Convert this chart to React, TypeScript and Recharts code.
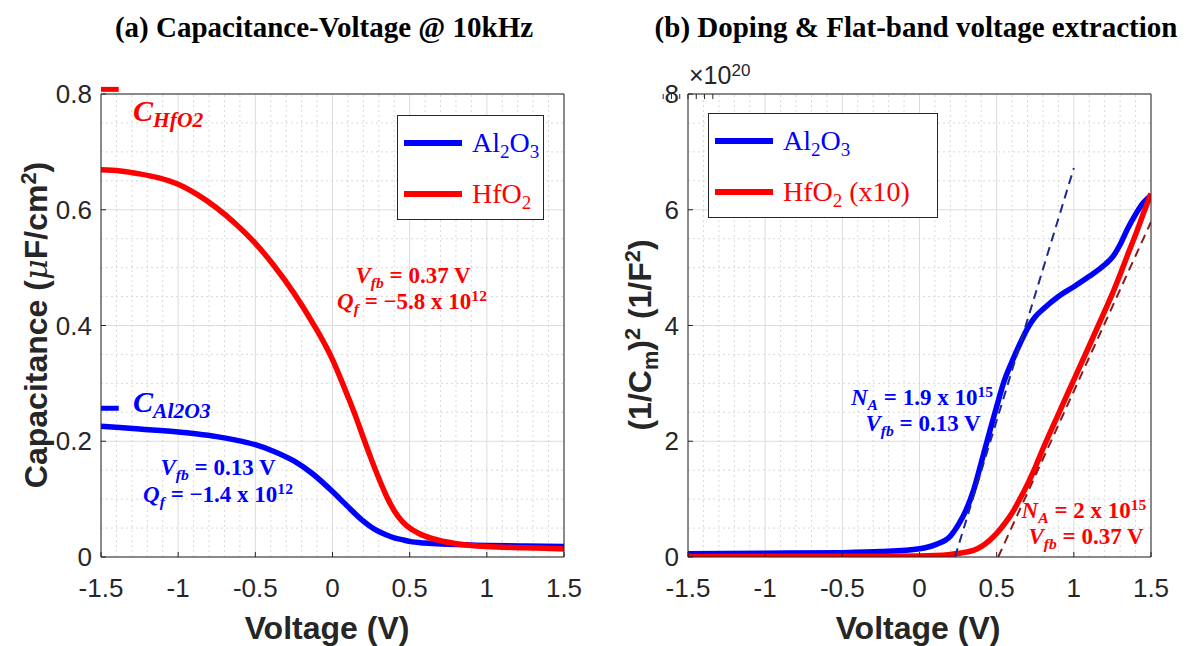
import React from "react";
import {
  LineChart,
  Line,
  CartesianGrid,
  XAxis,
  YAxis,
  ReferenceLine,
} from "recharts";

// (a) C-V @ 10kHz
const cvVoltsAl = [-1.5, -1.25, -1, -0.875, -0.75, -0.625, -0.5, -0.375, -0.25, -0.125, 0, 0.05, 0.1, 0.15, 0.2, 0.25, 0.3, 0.35, 0.4, 0.45, 0.5, 0.6, 0.75, 1, 1.25, 1.5];
const cvAl2O3 = [0.226, 0.221, 0.216, 0.2125, 0.208, 0.202, 0.194, 0.182, 0.166, 0.143, 0.113, 0.1, 0.087, 0.074, 0.062, 0.052, 0.044, 0.038, 0.033, 0.03, 0.027, 0.024, 0.022, 0.02, 0.019, 0.018];
const cvVoltsHf = [-1.5, -1.375, -1.25, -1.125, -1, -0.875, -0.75, -0.625, -0.5, -0.375, -0.25, -0.125, 0, 0.05, 0.1, 0.15, 0.2, 0.25, 0.3, 0.35, 0.4, 0.45, 0.5, 0.55, 0.6, 0.7, 0.8, 1, 1.25, 1.5];
const cvHfO2 = [0.669, 0.667, 0.662, 0.655, 0.644, 0.626, 0.603, 0.575, 0.542, 0.502, 0.456, 0.403, 0.341, 0.31, 0.277, 0.243, 0.206, 0.17, 0.136, 0.105, 0.08, 0.062, 0.05, 0.042, 0.036, 0.028, 0.023, 0.018, 0.016, 0.014];
const cOxHfO2 = 0.808;
const cOxAl2O3 = 0.257;
const cOxSpan = [-1.5, -1.385];

// (b) 1/C^2 vs V (x1e20)
const mVolts = [-1.5, -1, -0.5, -0.25, 0, 0.1, 0.2, 0.25, 0.3, 0.35, 0.4, 0.45, 0.5, 0.55, 0.6, 0.65, 0.7, 0.75, 0.8, 0.9, 1, 1.1, 1.2, 1.25, 1.3, 1.35, 1.4, 1.45, 1.5];
const mAl2O3 = [0.058, 0.065, 0.075, 0.093, 0.144, 0.21, 0.36, 0.55, 0.8, 1.15, 1.63, 2.12, 2.6, 3.05, 3.38, 3.68, 3.95, 4.15, 4.28, 4.5, 4.67, 4.85, 5.05, 5.18, 5.4, 5.68, 5.92, 6.12, 6.25];
const mHfO2 = [0.01, 0.011, 0.012, 0.014, 0.017, 0.025, 0.045, 0.06, 0.085, 0.115, 0.18, 0.28, 0.41, 0.57, 0.76, 1.0, 1.26, 1.55, 1.87, 2.47, 3.06, 3.65, 4.25, 4.55, 4.88, 5.23, 5.57, 5.93, 6.28];
const fitAlV = [0.23, 1.0];
const fitAlY = [0, 6.72];
const fitHfV = [0.51, 1.5];
const fitHfY = [0, 5.79];

const xTicks = [-1.5, -1, -0.5, 0, 0.5, 1, 1.5];
const xMinor = [-1.4, -1.3, -1.2, -1.1, -0.9, -0.8, -0.7, -0.6, -0.4, -0.3, -0.2, -0.1, 0.1, 0.2, 0.3, 0.4, 0.6, 0.7, 0.8, 0.9, 1.1, 1.2, 1.3, 1.4];
const cTicks = [0, 0.2, 0.4, 0.6, 0.8];
const cMinor = [0.05, 0.1, 0.15, 0.25, 0.3, 0.35, 0.45, 0.5, 0.55, 0.65, 0.7, 0.75];
const mTicks = [0, 2, 4, 6, 8];
const mMinor = [0.5, 1, 1.5, 2.5, 3, 3.5, 4.5, 5, 5.5, 6.5, 7, 7.5];

const BLUE = "#0000ff";
const RED = "#ff0000";
const AX = "#262626";

const cvAl = cvVoltsAl.map((v, i) => ({ v, y: cvAl2O3[i] }));
const cvHf = cvVoltsHf.map((v, i) => ({ v, y: cvHfO2[i] }));
const mData = mVolts.map((v, i) => ({ v, al: mAl2O3[i], hf: mHfO2[i] }));
const fitAl = fitAlV.map((v, i) => ({ v, y: fitAlY[i] }));
const fitHf = fitHfV.map((v, i) => ({ v, y: fitHfY[i] }));

const tickStyle = { fontFamily: "Liberation Sans, Arial, sans-serif", fontSize: 26, fill: AX };
const blank = () => "";

const Txt = ({ x, y, rot, style, children }: any) => (
  <div
    style={{
      position: "absolute",
      left: x,
      top: y,
      transform: `translate(-50%, -50%)${rot ? ` rotate(${rot}deg)` : ""}`,
      whiteSpace: "nowrap",
      lineHeight: 1,
      ...style,
    }}
  >
    {children}
  </div>
);

const Sub = ({ children, s = 0.68 }: any) => (
  <span style={{ fontSize: `${s}em`, position: "relative", top: "0.3em" }}>{children}</span>
);
const Sup = ({ children }: any) => (
  <span style={{ fontSize: "0.68em", position: "relative", top: "-0.5em" }}>{children}</span>
);
const I = ({ children }: any) => <span style={{ fontStyle: "italic" }}>{children}</span>;

const noteStyle = (color: string) => ({
  fontFamily: "Liberation Serif, serif",
  fontWeight: 700,
  fontSize: 23,
  color,
});
const labelStyle = { fontFamily: "Liberation Sans, Arial, sans-serif", fontWeight: 700, fontSize: 32, color: AX };
const titleStyle = { fontFamily: "Liberation Serif, serif", fontWeight: 700, fontSize: 29 };

const Grid = ({ yMinor }: { yMinor: number[] }) => (
  <>
    {xMinor.map((x) => (
      <ReferenceLine key={"x" + x} x={x} stroke="#d9d9d9" strokeDasharray="2 3" />
    ))}
    {yMinor.map((y) => (
      <ReferenceLine key={"y" + y} y={y} stroke="#d9d9d9" strokeDasharray="2 3" />
    ))}
  </>
);

const Frame = ({ domain, ticks }: { domain: number[]; ticks: number[] }) => (
  <>
    <XAxis xAxisId="top" orientation="top" type="number" domain={[-1.5, 1.5]} ticks={xTicks}
      tickFormatter={blank} tickSize={-5} tickLine={{ stroke: AX }} axisLine={{ stroke: AX }} height={1} />
    <YAxis yAxisId="right" orientation="right" type="number" domain={domain} ticks={ticks}
      tickFormatter={blank} tickSize={-5} tickLine={{ stroke: AX }} axisLine={{ stroke: AX }} width={1} />
  </>
);

const LegendBox = ({ left, top, width, items }: any) => (
  <div
    style={{
      position: "absolute",
      left,
      top,
      width,
      height: 105,
      border: "1.5px solid #262626",
      background: "#fff",
      boxSizing: "border-box",
      fontFamily: "Liberation Serif, serif",
      fontSize: 28,
    }}
  >
    {items.map((it: any, i: number) => (
      <div key={i} style={{ position: "absolute", left: 6, top: 13 + i * 51, display: "flex", alignItems: "center" }}>
        <div style={{ width: 58, height: 6, background: it.color, marginRight: 10 }} />
        <span style={{ color: it.color, lineHeight: 1 }}>{it.label}</span>
      </div>
    ))}
  </div>
);

const App: React.FC = () => {
  return (
    <div style={{ position: "absolute", left: 0, top: 0, width: 1189, height: 646, background: "#fff" }}>
      <div style={{ position: "absolute", left: 0, top: 0 }}>
        <LineChart width={600} height={646} margin={{ top: 93, right: 35, bottom: 49, left: 51 }}>
          <Grid yMinor={cMinor} />
          <CartesianGrid stroke="#dcdcdc" />
          <XAxis dataKey="v" type="number" domain={[-1.5, 1.5]} ticks={xTicks} tick={tickStyle} tickSize={-5}
            tickLine={{ stroke: AX }} axisLine={{ stroke: AX }} tickMargin={27} height={40} allowDataOverflow />
          <YAxis type="number" domain={[0, 0.8]} ticks={cTicks} tick={tickStyle} tickSize={-5}
            tickLine={{ stroke: AX }} axisLine={{ stroke: AX }} tickMargin={14} width={50} allowDataOverflow />
          <Frame domain={[0, 0.8]} ticks={cTicks} />
          <Line data={cvAl} dataKey="y" stroke={BLUE} strokeWidth={5.5} dot={false} type="monotone" isAnimationActive={false} />
          <Line data={cvHf} dataKey="y" stroke={RED} strokeWidth={5.5} dot={false} type="monotone" isAnimationActive={false} />
          <ReferenceLine
            segment={[{ x: cOxSpan[0], y: cOxHfO2 }, { x: cOxSpan[1], y: cOxHfO2 }]}
            stroke={RED} strokeWidth={5} ifOverflow="visible" />
          <ReferenceLine
            segment={[{ x: cOxSpan[0], y: cOxAl2O3 }, { x: cOxSpan[1], y: cOxAl2O3 }]}
            stroke={BLUE} strokeWidth={5} ifOverflow="visible" />
        </LineChart>
      </div>

      <div style={{ position: "absolute", left: 600, top: 0 }}>
        <LineChart width={589} height={646} data={mData} margin={{ top: 93, right: 37, bottom: 49, left: 48 }}>
          <Grid yMinor={mMinor} />
          <CartesianGrid stroke="#dcdcdc" />
          <XAxis dataKey="v" type="number" domain={[-1.5, 1.5]} ticks={xTicks} tick={tickStyle} tickSize={-5}
            tickLine={{ stroke: AX }} axisLine={{ stroke: AX }} tickMargin={27} height={40} allowDataOverflow />
          <YAxis type="number" domain={[0, 8]} ticks={mTicks} tick={tickStyle} tickSize={-5}
            tickLine={{ stroke: AX }} axisLine={{ stroke: AX }} tickMargin={14} width={40} allowDataOverflow />
          <Frame domain={[0, 8]} ticks={mTicks} />
          <Line dataKey="al" stroke={BLUE} strokeWidth={5.5} dot={false} type="monotone" isAnimationActive={false} />
          <Line dataKey="hf" stroke={RED} strokeWidth={5.5} dot={false} type="monotone" isAnimationActive={false} />
          <Line data={fitAl} dataKey="y" stroke="#1c2a8c" strokeWidth={2} strokeDasharray="9 6" dot={false}
            type="linear" isAnimationActive={false} />
          <Line data={fitHf} dataKey="y" stroke="#8a1c1c" strokeWidth={2} strokeDasharray="9 6" dot={false}
            type="linear" isAnimationActive={false} />
        </LineChart>
      </div>

      {/* titles */}
      <Txt x={324} y={27} style={titleStyle}>(a) Capacitance-Voltage @ 10kHz</Txt>
      <Txt x={916} y={27} style={titleStyle}>(b) Doping &amp; Flat-band voltage extraction</Txt>

      {/* axis labels */}
      <Txt x={36} y={325} rot={-90} style={labelStyle}>
        Capacitance (<span style={{ fontFamily: "DejaVu Serif, serif", fontStyle: "italic", fontWeight: 400 }}>μ</span>F/cm<Sup>2</Sup>)
      </Txt>
      <Txt x={640} y={335} rot={-90} style={labelStyle}>
        (1/C<Sub>m</Sub>)<Sup>2</Sup> (1/F<Sup>2</Sup>)
      </Txt>
      <Txt x={327} y={628} style={labelStyle}>Voltage (V)</Txt>
      <Txt x={918} y={628} style={labelStyle}>Voltage (V)</Txt>
      <div style={{ position: "absolute", left: 689, top: 61, fontFamily: "Liberation Sans, Arial, sans-serif", fontSize: 25, color: AX, whiteSpace: "nowrap" }}>
        ×10<Sup>20</Sup>
      </div>

      {/* legends */}
      <LegendBox left={397} top={115} width={147}
        items={[{ color: BLUE, label: <>Al<Sub>2</Sub>O<Sub>3</Sub></> }, { color: RED, label: <>HfO<Sub>2</Sub></> }]} />
      <LegendBox left={708} top={113} width={230}
        items={[{ color: BLUE, label: <>Al<Sub>2</Sub>O<Sub>3</Sub></> }, { color: RED, label: <>HfO<Sub>2</Sub> (x10)</> }]} />

      {/* annotations (a) */}
      <div style={{ position: "absolute", left: 133, top: 94, ...noteStyle(RED), fontSize: 30, fontStyle: "italic", whiteSpace: "nowrap" }}>
        C<Sub s={0.72}>HfO2</Sub>
      </div>
      <div style={{ position: "absolute", left: 133, top: 385, ...noteStyle(BLUE), fontSize: 30, fontStyle: "italic", whiteSpace: "nowrap" }}>
        C<Sub s={0.72}>Al2O3</Sub>
      </div>
      <Txt x={413} y={275} style={noteStyle(RED)}>
        <I>V</I><Sub><I>fb</I></Sub> = 0.37 V
      </Txt>
      <Txt x={412} y={301} style={noteStyle(RED)}>
        <I>Q</I><Sub><I>f</I></Sub> = −5.8 x 10<Sup>12</Sup>
      </Txt>
      <Txt x={218} y={467} style={noteStyle(BLUE)}>
        <I>V</I><Sub><I>fb</I></Sub> = 0.13 V
      </Txt>
      <Txt x={218} y={494} style={noteStyle(BLUE)}>
        <I>Q</I><Sub><I>f</I></Sub> = −1.4 x 10<Sup>12</Sup>
      </Txt>

      {/* annotations (b) */}
      <Txt x={922} y={397} style={noteStyle(BLUE)}>
        <I>N</I><Sub><I>A</I></Sub> = 1.9 x 10<Sup>15</Sup>
      </Txt>
      <Txt x={923} y={423} style={noteStyle(BLUE)}>
        <I>V</I><Sub><I>fb</I></Sub> = 0.13 V
      </Txt>
      <Txt x={1084} y={510} style={noteStyle(RED)}>
        <I>N</I><Sub><I>A</I></Sub> = 2 x 10<Sup>15</Sup>
      </Txt>
      <Txt x={1086} y={536} style={noteStyle(RED)}>
        <I>V</I><Sub><I>fb</I></Sub> = 0.37 V
      </Txt>
    </div>
  );
};

export default App;
